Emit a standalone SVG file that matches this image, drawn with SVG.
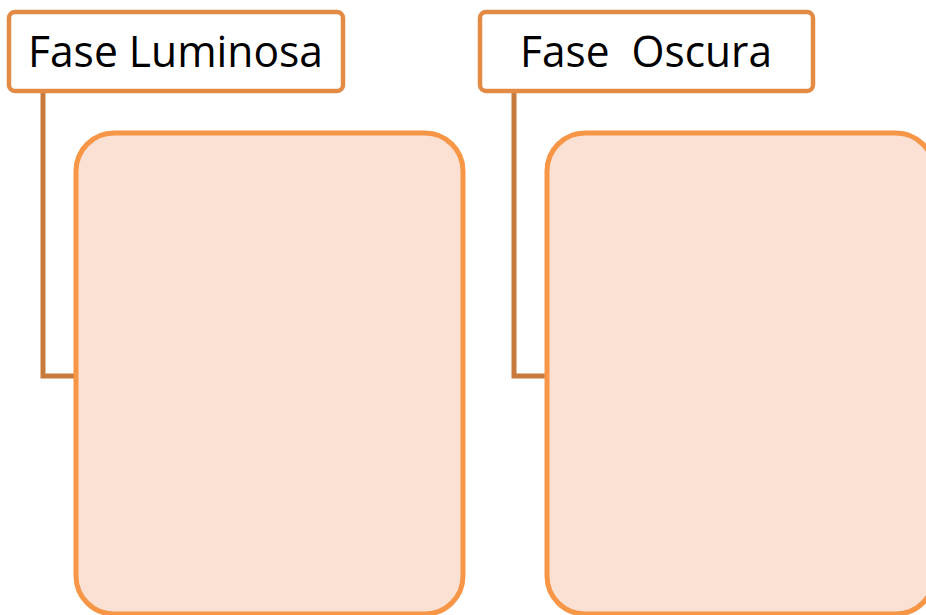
<svg xmlns="http://www.w3.org/2000/svg" width="926" height="615" viewBox="0 0 926 615">
  <style>
    .hdr { fill: #ffffff; stroke: #E38B45; stroke-width: 4.5; }
    .body { fill: #FBE0D4; stroke: #F79646; stroke-width: 5; }
    .link { fill: none; stroke: #C77A3B; stroke-width: 5; }
    .label { font-family: "Open Sans", "Noto Sans", "Liberation Sans", sans-serif; font-size: 43px; fill: #000000; white-space: pre; }
  </style>
  <g id="connectors">
    <polyline class="link" points="43,92 43,376 77,376"/>
    <polyline class="link" points="514,92 514,376 548,376"/>
  </g>
  <g id="luminosa-body">
    <rect class="body" x="76" y="133" width="387" height="481" rx="38" ry="38"/>
  </g>
  <g id="oscura-body">
    <rect class="body" x="547" y="133" width="387" height="481" rx="38" ry="38"/>
  </g>
  <g id="luminosa-header">
    <rect class="hdr" x="9" y="12" width="334" height="79" rx="6" ry="6"/>
    <text class="label" x="28" y="67" textLength="295" lengthAdjust="spacingAndGlyphs">Fase Luminosa</text>
  </g>
  <g id="oscura-header">
    <rect class="hdr" x="480" y="12" width="333" height="79" rx="6" ry="6"/>
    <text class="label" x="520" y="67" textLength="252" lengthAdjust="spacingAndGlyphs" xml:space="preserve">Fase  Oscura</text>
  </g>
</svg>
